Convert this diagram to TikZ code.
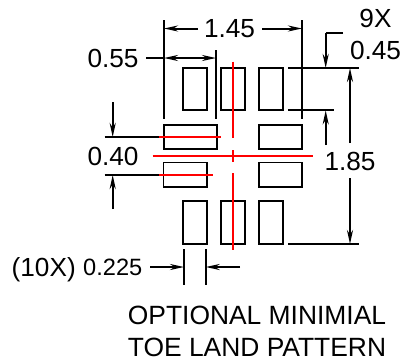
\documentclass[tikz,border=0pt]{standalone}
\usepackage{fontspec}
\setmainfont{Liberation Sans}
\usetikzlibrary{arrows.meta,positioning}
\definecolor{clred}{RGB}{255,0,0}
\begin{document}
\begin{tikzpicture}[x=1pt,y=-1pt,
  padtall/.style={draw, line width=1.6pt, minimum width=24pt, minimum height=42.5pt, inner sep=0pt},
  padwide/.style={draw, line width=1.6pt, minimum height=24.3pt, inner sep=0pt},
  extline/.style={line width=2pt},
  redline/.style={clred, line width=2pt},
  dimline/.style={line width=2pt, -{Stealth[length=14pt, width=6pt]}},
  dimboth/.style={line width=2pt, {Stealth[length=14pt, width=6pt]}-{Stealth[length=14pt, width=6pt]}},
  dimtext/.style={font=\fontsize{26.2}{26.2}\selectfont, inner sep=0pt},
  smalltext/.style={font=\fontsize{23.6}{23.6}\selectfont, inner sep=0pt},
  notetext/.style={font=\fontsize{26.4}{26.4}\selectfont, inner sep=0pt}]
\useasboundingbox (0,0) rectangle (404,360);
% Pads
\foreach \px/\pname in {195/a,233/b,271/c} {
  \node[padtall] (top\pname) at (\px,89) {};
  \node[padtall] (bot\pname) at (\px,222.5) {};
}
\node[padwide, minimum width=53pt] (leftup) at (190.2,137) {};
\node[padwide, minimum width=43.5pt] (leftlow) at (185.4,174.8) {};
\node[padwide, minimum width=43.5pt] (rightup) at (280.5,137) {};
\node[padwide, minimum width=43.5pt] (rightlow) at (280.5,174.8) {};
% Center lines
\draw[redline] (233,61.5) -- (233,138.3);
\draw[redline] (233,150) -- (233,162);
\draw[redline] (233,173) -- (233,250);
\draw[redline] (152.5,155.5) -- (313,155.5);
% Labels
\node[dimtext] (w145) at (229.5,29) {1.45};
\node[dimtext] (w055) at (113,58.5) {0.55};
\node[dimtext] (n9x) at (375.5,18) {9X};
\node[dimtext] (h045) at (375.5,50.5) {0.45};
\node[dimtext] (h040) at (113,156.5) {0.40};
\node[dimtext] (h185) at (350,161) {1.85};
\node[dimtext, anchor=base west] (n10x) at (11.5,276) {(10X)};
\node[smalltext, anchor=base west] (w0225) at (83,275.5) {0.225};
\node[notetext] (note1) at (257,315.5) {OPTIONAL MINIMIAL};
\node[notetext] (note2) at (257,347) {TOE LAND PATTERN};
% Extension lines
\coordinate (e1) at (164,28.5);
\coordinate (e2) at (302,28.5);
\coordinate (e3) at (164,58);
\coordinate (e4) at (216,58);
\draw[extline] (164,20) -- (164,119);
\draw[extline] (302,20) -- (302,119);
\draw[extline] (216,50) -- (216,119);
\draw[extline] (288,68) -- (358.5,68);
\draw[extline] (288,110.4) -- (333.5,110.4);
\draw[extline] (288,244) -- (358.5,244);
\draw[extline] (104.5,137) -- (159,137);
\draw[extline] (104.5,175) -- (159,175);
\draw[extline] (184,249) -- (184,285);
\draw[extline] (205.7,249) -- (205.7,285);
% Red over pads
\draw[redline] (159,137) -- (220.7,137);
\draw[redline] (159,175) -- (212.7,175);
% Dimensions
\draw[dimline] (198,28.5) -- (e1);
\draw[dimline] (262,28.5) -- (e2);
\draw[extline] (146,58) -- (e3);
\draw[dimboth] (e3) -- (e4);
\draw[extline] (343,33) -- (325.7,33);
\draw[dimline] (325.7,33) -- (325.7,68);
\draw[dimline] (325.7,145) -- (325.7,110.4);
\draw[dimline] (350,143) -- (350,68);
\draw[dimline] (350,178) -- (350,244);
\draw[dimline] (112.7,102) -- (112.7,137);
\draw[dimline] (112.7,209) -- (112.7,175);
\draw[dimline] (150,267) -- (184,267);
\draw[dimline] (240,267) -- (205.7,267);
\end{tikzpicture}
\end{document}
